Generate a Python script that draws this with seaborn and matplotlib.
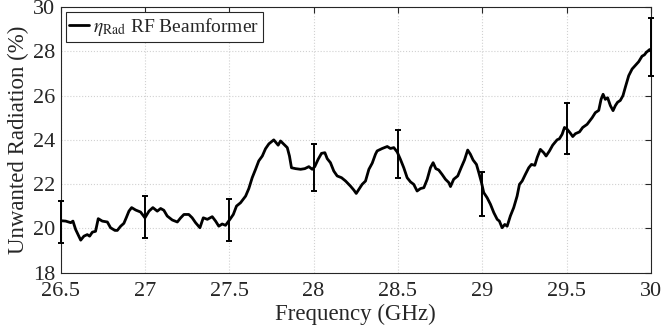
import matplotlib
matplotlib.use("Agg")
import matplotlib.pyplot as plt
import pandas as pd
import seaborn as sns
import numpy as np

# Unwanted radiation of the RF beamformer
freq = [26.500, 26.530, 26.560, 26.573, 26.589, 26.619, 26.638, 26.658, 26.672, 26.688,
        26.707, 26.723, 26.747, 26.777, 26.796, 26.822, 26.836, 26.856, 26.875, 26.889,
        26.905, 26.921, 26.945, 26.974, 27.000, 27.024, 27.047, 27.073, 27.093, 27.112,
        27.132, 27.162, 27.192, 27.211, 27.231, 27.260, 27.280, 27.300, 27.326, 27.346,
        27.370, 27.399, 27.419, 27.438, 27.458, 27.478, 27.504, 27.524, 27.543, 27.567,
        27.597, 27.616, 27.636, 27.656, 27.675, 27.696, 27.715, 27.735, 27.764, 27.790,
        27.804, 27.824, 27.844, 27.857, 27.869, 27.893, 27.923, 27.948, 27.972, 27.992,
        28.007, 28.027, 28.047, 28.067, 28.081, 28.100, 28.120, 28.140, 28.166, 28.190,
        28.219, 28.239, 28.253, 28.269, 28.288, 28.308, 28.328, 28.348, 28.367, 28.377,
        28.407, 28.437, 28.456, 28.476, 28.496, 28.515, 28.535, 28.555, 28.575, 28.594,
        28.614, 28.634, 28.654, 28.674, 28.693, 28.709, 28.725, 28.742, 28.762, 28.782,
        28.802, 28.812, 28.831, 28.855, 28.875, 28.895, 28.914, 28.930, 28.946, 28.966,
        28.980, 28.996, 29.009, 29.029, 29.049, 29.069, 29.089, 29.102, 29.118, 29.134,
        29.148, 29.167, 29.187, 29.207, 29.221, 29.237, 29.256, 29.276, 29.292, 29.312,
        29.326, 29.345, 29.365, 29.379, 29.399, 29.418, 29.444, 29.458, 29.474, 29.488,
        29.504, 29.523, 29.537, 29.553, 29.577, 29.596, 29.622, 29.652, 29.671, 29.691,
        29.705, 29.717, 29.730, 29.744, 29.760, 29.776, 29.790, 29.803, 29.819, 29.835,
        29.849, 29.869, 29.889, 29.908, 29.928, 29.948, 29.962, 29.973, 29.993, 30.000]
eta_rad = [20.35, 20.33, 20.26, 20.33, 19.95, 19.47, 19.65, 19.72, 19.65, 19.83,
           19.87, 20.44, 20.33, 20.29, 20.03, 19.91, 19.91, 20.10, 20.23, 20.48,
           20.78, 20.94, 20.83, 20.74, 20.48, 20.78, 20.94, 20.78, 20.90, 20.82,
           20.56, 20.38, 20.29, 20.47, 20.63, 20.63, 20.48, 20.26, 20.03, 20.48,
           20.41, 20.53, 20.33, 20.10, 20.20, 20.14, 20.41, 20.63, 21.01, 21.16,
           21.46, 21.80, 22.29, 22.67, 23.05, 23.27, 23.60, 23.82, 24.00, 23.76,
           23.95, 23.80, 23.65, 23.27, 22.74, 22.70, 22.67, 22.70, 22.79, 22.67,
           22.79, 23.12, 23.39, 23.42, 23.15, 22.97, 22.59, 22.37, 22.29, 22.14,
           21.91, 21.73, 21.58, 21.77, 21.99, 22.14, 22.67, 22.95, 23.35, 23.50,
           23.61, 23.70, 23.61, 23.65, 23.45, 23.12, 22.74, 22.29, 22.10, 21.99,
           21.69, 21.80, 21.84, 22.22, 22.74, 22.97, 22.70, 22.64, 22.44, 22.22,
           22.07, 21.89, 22.22, 22.37, 22.74, 23.09, 23.54, 23.35, 23.09, 22.89,
           22.52, 22.07, 21.62, 21.39, 21.09, 20.71, 20.41, 20.33, 20.03, 20.18,
           20.10, 20.56, 20.94, 21.46, 21.99, 22.14, 22.44, 22.74, 22.89, 22.85,
           23.20, 23.57, 23.42, 23.27, 23.50, 23.76, 24.00, 24.05, 24.25, 24.56,
           24.48, 24.30, 24.15, 24.28, 24.36, 24.56, 24.70, 25.00, 25.23, 25.33,
           25.83, 26.06, 25.83, 25.90, 25.55, 25.32, 25.55, 25.70, 25.78, 26.00,
           26.38, 26.90, 27.20, 27.36, 27.53, 27.78, 27.84, 27.95, 28.08, 28.05]

# Error bars every 0.5 GHz
err_freq = [26.5, 27.0, 27.5, 28.0, 28.5, 29.0, 29.5, 30.0]
err_center = [20.30, 20.50, 20.37, 22.75, 23.36, 21.55, 24.50, 28.20]
err_half = [0.95, 0.95, 0.94, 1.05, 1.10, 1.00, 1.15, 1.30]

xticks = [26.5, 27, 27.5, 28, 28.5, 29, 29.5, 30]
xtick_labels = ["26.5", "27", "27.5", "28", "28.5", "29", "29.5", "30"]
yticks = [18, 20, 22, 24, 26, 28, 30]

df = pd.DataFrame({"Frequency": freq, "eta": eta_rad})

sns.set_theme(style="white")
plt.rcParams['font.family'] = ['Liberation Serif', 'DejaVu Serif']
plt.rcParams['mathtext.fontset'] = 'stix'

fig = plt.figure(figsize=(6.62, 3.35), dpi=100)
ax = fig.add_axes([0.0916, 0.186, 0.8915, 0.793])

sns.lineplot(data=df, x="Frequency", y="eta", color="black", linewidth=2.0,
             label=r"$\eta_{\mathrm{Rad}}$ RF Beamformer", ax=ax)
ax.errorbar(err_freq, err_center, yerr=err_half, fmt="none", ecolor="black",
            elinewidth=1.4, capsize=2.5, capthick=1.4, clip_on=False, zorder=3)

ax.set_xlim(26.5, 30)
ax.set_ylim(18, 30)
ax.set_xticks(xticks)
ax.set_xticklabels(xtick_labels)
ax.set_yticks(yticks)
ax.grid(True, linestyle=":", color="0.82", linewidth=0.8)
ax.tick_params(direction="in", top=True, right=True, length=4, width=0.8,
               labelsize=16, colors="#262626")
ax.tick_params(axis="x", pad=7)
ax.tick_params(axis="y", pad=4)
for sp in ax.spines.values():
    sp.set_color("#262626")
    sp.set_linewidth(0.8)

ax.set_xlabel("Frequency (GHz)", fontsize=16.5, color="#262626", labelpad=2)
ax.set_ylabel("Unwanted Radiation (%)", fontsize=16.5, color="#262626", labelpad=3)

leg = ax.legend(loc="upper left", fontsize=14, frameon=True, fancybox=False,
                handlelength=1.0, handletextpad=0.2, borderpad=0.2,
                borderaxespad=0.25, framealpha=1)
leg.get_frame().set_edgecolor("#262626")
leg.get_frame().set_linewidth(0.8)

fig.savefig("out.png", dpi=100)
